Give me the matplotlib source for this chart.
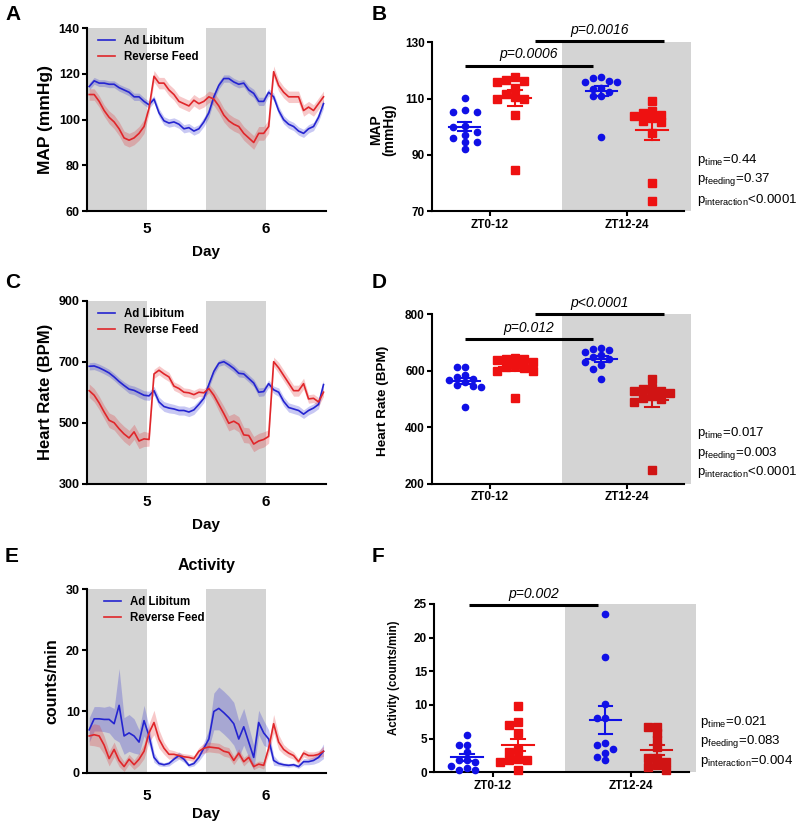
import matplotlib
matplotlib.use("Agg")
import matplotlib.pyplot as plt
import numpy as np

plt.rcParams['font.family'] = ['Liberation Sans', 'DejaVu Sans']
plt.rcParams['mathtext.fontset'] = 'custom'
plt.rcParams['mathtext.rm'] = 'Liberation Sans'
plt.rcParams['mathtext.it'] = 'Liberation Sans:italic'
plt.rcParams['mathtext.bf'] = 'Liberation Sans:bold'

# -------------------------------
# time course data (hourly bins from day 4.5 to 6.5)
# -------------------------------
map_al = [114.5, 117, 116, 116, 115.5, 115.5, 114, 113, 112, 110, 110, 108, 106.5, 109,
          103, 99.5, 98.5, 99, 98, 96, 96.5, 95, 96, 99, 103, 110, 115, 118, 118, 116.5,
          115.5, 116, 113, 111.5, 108, 108, 112, 110, 104, 100, 98, 97, 95, 94, 96, 97,
          101, 107]
map_al_sem = [1.5, 1.5, 1.5, 1.5, 1.5, 1.5, 1.5, 1.5, 1.6, 1.6, 1.6, 1.6, 1.6, 1.5, 1.8, 1.8,
              1.8, 1.8, 1.8, 1.8, 1.8, 1.8, 1.8, 2.0, 2.0, 1.8, 1.6, 1.6, 1.6, 1.6, 1.6, 1.6,
              1.8, 1.8, 1.8, 1.8, 1.6, 1.6, 1.8, 1.8, 1.8, 1.8, 1.8, 1.8, 1.8, 1.8, 1.8, 2.0]
map_rf = [111, 111, 108, 104, 101, 99, 96, 92, 91, 92, 94, 97, 105, 119, 116, 116, 113, 111,
          108, 107, 106, 108.5, 107, 108, 110, 109, 106, 102, 99.5, 98, 97, 94, 92, 90, 94, 94,
          97, 121, 115, 112, 110, 110, 110, 104, 105.5, 104, 107, 110]
map_rf_sem = [2.5, 2.5, 2.5, 2.5, 2.8, 3, 3, 3, 3, 3, 3, 3, 2.5, 2.5, 2.5, 2.5, 2.5, 2.5,
              2.5, 2.5, 2.5, 2.5, 2.5, 2.5, 2.5, 2.8, 3, 3, 3, 3, 3, 3, 3, 3, 3, 3, 3, 2.5,
              2.5, 2.5, 2.5, 2.5, 2.5, 2.5, 2.5, 2.5, 2.5, 2.5]

hr_al = [685, 686, 680, 672, 663, 650, 635, 622, 610, 606, 598, 590, 588, 605, 568, 553,
         548, 545, 540, 540, 535, 542, 560, 580, 625, 668, 695, 700, 690, 678, 662, 660,
         645, 630, 600, 602, 628, 608, 600, 570, 550, 545, 540, 528, 540, 548, 560, 625]
hr_al_sem = [12, 12, 12, 12, 12, 12, 12, 12, 14, 14, 15, 15, 15, 14, 16, 16, 16, 15, 15, 15,
             15, 15, 14, 14, 12, 12, 10, 10, 12, 12, 12, 12, 12, 12, 14, 14, 12, 12, 14, 15,
             15, 15, 15, 14, 14, 14, 14, 14]
hr_rf = [605, 590, 565, 535, 508, 500, 480, 463, 450, 470, 440, 447, 445, 660, 672, 660,
         650, 620, 612, 600, 598, 592, 600, 598, 612, 590, 560, 530, 498, 505, 495, 460,
         458, 430, 440, 445, 455, 700, 680, 655, 630, 605, 605, 628, 578, 580, 568, 600]
hr_rf_sem = [22, 22, 22, 22, 24, 24, 24, 25, 25, 25, 25, 25, 22, 15, 15, 15, 15, 14, 14, 14,
             14, 14, 14, 14, 14, 18, 22, 24, 25, 25, 25, 25, 25, 25, 25, 25, 22, 15, 18, 18,
             18, 18, 18, 18, 14, 14, 14, 14]

act_al = [7, 8.8, 8.8, 8.7, 8.7, 8.0, 11, 6, 6.5, 6, 5, 8.5, 6, 2.5, 1.5, 1.3, 1.5, 2.2, 2.8,
          2.2, 1.2, 1.5, 2.5, 4, 5.5, 10, 10.5, 9.8, 9, 8, 5.5, 7.5, 5, 2.5, 8.2, 6.5, 5.5, 2,
          1.5, 1.3, 1.2, 1.3, 1.0, 1.8, 1.8, 2.0, 2.5, 3.5]
act_al_sem = [2, 2, 2, 2, 2.2, 2.5, 6, 3, 3, 2.8, 2, 2.5, 1.5, 0.8, 0.4, 0.3, 0.4, 0.5, 0.6,
              0.5, 0.3, 0.4, 0.6, 1, 1.5, 3, 3.5, 3.5, 3.5, 3.5, 3, 3, 2.5, 2, 2, 2, 1.5, 0.8,
              0.4, 0.3, 0.3, 0.3, 0.3, 0.5, 0.5, 0.6, 0.8, 1.2]
act_rf = [6, 6.2, 6.0, 4.5, 2.3, 3.8, 2, 1, 2.2, 1.3, 2.2, 3.5, 6.5, 8.2, 5.5, 4, 3, 3, 2.8,
          2.6, 2.5, 2.3, 3.5, 4, 4.2, 4.1, 4, 3.5, 3.3, 2, 3.2, 1.8, 2.5, 1, 1.4, 1.2, 4, 8, 5,
          3.8, 3.2, 2.8, 1.8, 3.2, 2.8, 2.8, 3, 3.5]
act_rf_sem = [1.5, 1.8, 1.8, 1.5, 1.2, 1.2, 1, 0.8, 0.8, 0.8, 1, 1.2, 1.5, 2, 1.5, 1, 0.8, 0.6,
              0.5, 0.5, 0.5, 0.5, 0.6, 0.8, 0.8, 0.8, 0.8, 0.8, 0.8, 0.7, 0.7, 0.7, 0.6, 0.5,
              0.5, 0.6, 1, 1.5, 1.2, 0.8, 0.7, 0.6, 0.5, 0.6, 0.6, 0.6, 0.6, 0.8]

dark_phases = [(4.5, 5.0), (5.5, 6.0)]
day_ticks = [5, 6]

# -------------------------------
# individual animals, ZT0-12 / ZT12-24
# -------------------------------
categories = ['ZT0-12', 'ZT12-24']

map_al_zt0 = [110.3, 105.3, 105.3, 105.9, 100.2, 100, 98.2, 96.1, 97, 94.4, 94.4, 91.9]
map_rf_zt0 = [116, 116.2, 116.6, 117.8, 111.6, 113.9, 110.5, 109.7, 109.7, 104, 84.5]
map_al_zt12 = [117.5, 115.8, 116, 117.2, 116.3, 113.5, 112.5, 111, 110.8, 113.6, 96.4]
map_rf_zt12 = [109.1, 104.7, 104.1, 105.7, 103, 103.8, 102, 101.5, 97.9, 79.8, 73.5]

hr_al_zt0 = [613, 613, 585, 579, 571, 566, 560, 548, 544, 545, 473]
hr_rf_zt0 = [642, 640, 638, 644, 630, 620, 615, 609, 600, 598, 505]
hr_al_zt12 = [677, 672, 682, 668, 655, 648, 640, 632, 620, 605, 570]
hr_rf_zt12 = [571, 540, 535, 530, 528, 520, 510, 505, 500, 490, 249]

act_al_zt0 = [5.5, 4.1, 4.1, 3.0, 1.0, 1.8, 1.8, 1.6, 0.4, 0.3, 0.6]
act_rf_zt0 = [9.9, 7.4, 7.0, 5.9, 3.0, 3.3, 1.9, 1.9, 0.4, 2.0, 1.5]
act_al_zt12 = [23.5, 17.2, 10.2, 8.0, 8.0, 4.0, 4.4, 3.5, 2.8, 1.8, 2.2]
act_rf_zt12 = [6.8, 6.8, 5.8, 4.8, 3.8, 2.1, 2.1, 1.1, 0.8, 0.3, 1.5]

map_p = ['0.44', '0.37', '<0.0001']
hr_p = ['0.017', '0.003', '<0.0001']
act_p = ['0.021', '0.083', '0.004']

BLUE = '#2424d0'
RED = '#e0262a'
DOT_BLUE = '#1010e6'
DOT_RED = '#ee1111'
GRAY = '#d4d4d4'

W, H = 800, 823
fig = plt.figure(figsize=(W / 100, H / 100), dpi=100)


def px_axes(left, top, right, bottom):
    return fig.add_axes([left / W, 1 - bottom / H, (right - left) / W, (bottom - top) / H])


def style_axes(ax, tick_size):
    for s in ['top', 'right']:
        ax.spines[s].set_visible(False)
    for s in ['left', 'bottom']:
        ax.spines[s].set_linewidth(1.5)
    ax.tick_params(axis='y', length=3.5, width=1.5, pad=1.5, labelsize=tick_size)
    for lab in ax.get_yticklabels():
        lab.set_fontweight('bold')


def time_panel(ax, al, al_sem, rf, rf_sem, ylim, yticks, ylabel, ylab_x, ylab_size,
               tick_pad, leg_x):
    al, al_sem, rf, rf_sem = map(np.asarray, (al, al_sem, rf, rf_sem))
    t = 4.5 + (np.arange(len(al)) + 0.5) / 24
    for a, b in dark_phases:
        ax.axvspan(a, b, color=GRAY, lw=0, zorder=0)
    ax.fill_between(t, al - al_sem, al + al_sem, color=BLUE, alpha=0.25, lw=0, zorder=1)
    ax.fill_between(t, rf - rf_sem, rf + rf_sem, color=RED, alpha=0.25, lw=0, zorder=1)
    ax.plot(t, al, color=BLUE, lw=1.2, label='Ad Libitum', zorder=2)
    ax.plot(t, rf, color=RED, lw=1.2, label='Reverse Feed', zorder=2)
    ax.set_xlim(4.5, 6.5)
    ax.set_ylim(*ylim)
    ax.set_yticks(yticks)
    ax.set_xticks(day_ticks)
    style_axes(ax, 9)
    ax.tick_params(axis='x', length=0, pad=tick_pad, labelsize=11)
    for lab in ax.get_xticklabels():
        lab.set_fontweight('bold')
    ax.set_xlabel('Day', fontsize=11, fontweight='bold')
    ax.xaxis.set_label_coords(0.5, -0.185)
    ax.set_ylabel(ylabel, fontsize=ylab_size, fontweight='bold')
    ax.yaxis.set_label_coords(ylab_x, 0.5)
    ax.legend(loc='upper left', bbox_to_anchor=(leg_x, 1.0), frameon=False,
              prop={'weight': 'bold', 'size': 8.3}, handlelength=1.4,
              handletextpad=0.8, labelspacing=0.35, borderaxespad=0.2)


def swarm_x(ax, values, center, step_px, ythr_px):
    pts = ax.transData.transform(np.column_stack([np.full(len(values), center), values]))
    ys = pts[:, 1]
    order = np.argsort(-ys)
    placed = []
    offs = np.zeros(len(values))
    for i in order:
        for k in [0, -1, 1, -2, 2, -3, 3, -4, 4]:
            if all(not (kk == k and abs(ys[i] - py) < ythr_px) for kk, py in placed):
                break
        placed.append((k, ys[i]))
        offs[i] = k * step_px
    return ax.transData.inverted().transform(np.column_stack([pts[:, 0] + offs, ys]))[:, 0]


def scatter_panel(ax, groups, ylim, yticks, ylabel, ylab_xy, ylab_size, bars, pvals,
                  ptext_x, ptext_y):
    ax.set_xlim(0.575, 2.47)
    ax.set_ylim(*ylim)
    ax.axvspan(1.525, 2.47, color=GRAY, lw=0, zorder=0)
    ax.set_xticks([1, 2])
    ax.set_xticklabels(categories)
    ax.set_yticks(yticks)
    style_axes(ax, 8.5)
    ax.spines['bottom'].set_bounds(0.575, 2.42)
    ax.tick_params(axis='x', length=3.5, width=1.5, pad=2, labelsize=8.5)
    for lab in ax.get_xticklabels():
        lab.set_fontweight('bold')
    ax.set_ylabel(ylabel, fontsize=ylab_size, fontweight='bold', linespacing=1.0)
    ax.yaxis.set_label_coords(*ylab_xy)
    for vals, cx, color, marker, ms, step in groups:
        vals = np.asarray(vals, dtype=float)
        xs = swarm_x(ax, vals, cx, step, 6.5)
        ax.plot(xs, vals, linestyle='none', marker=marker, ms=ms, color=color,
                mec=color, zorder=3, clip_on=False)
        m = vals.mean()
        se = vals.std(ddof=1) / np.sqrt(len(vals))
        ax.plot([cx - 0.115, cx + 0.115], [m, m], color=color, lw=1.5, zorder=4)
        ax.plot([cx, cx], [m - se, m + se], color=color, lw=1.5, zorder=4)
        for y in (m - se, m + se):
            ax.plot([cx - 0.05, cx + 0.05], [y, y], color=color, lw=1.5, zorder=4)
    for x0, x1, y, txt in bars:
        ax.plot([x0, x1], [y, y], color='black', lw=2.2, clip_on=False, zorder=5,
                solid_capstyle='butt')
        ax.annotate(txt, ((x0 + x1) / 2, y), xytext=(0, 3), textcoords='offset points',
                    ha='center', va='bottom', fontsize=10, fontstyle='italic',
                    annotation_clip=False)
    names = ['time', 'feeding', 'interaction']
    for name, pv, yy in zip(names, pvals, ptext_y):
        sign = '' if pv.startswith('<') else '='
        fig.text(ptext_x / W, 1 - yy / H, r'p$_{\mathrm{%s}}$%s%s' % (name, sign, pv),
                 fontsize=9.5, va='center', ha='left')


# ---------- A ----------
axA = px_axes(86.7, 28.3, 326, 211)
time_panel(axA, map_al, map_al_sem, map_rf, map_rf_sem, (60, 140), [60, 80, 100, 120, 140],
           'MAP (mmHg)', -0.142, 12.5, 8, 0.02)

# ---------- C ----------
axC = px_axes(86.7, 300.7, 326, 483.7)
time_panel(axC, hr_al, hr_al_sem, hr_rf, hr_rf_sem, (300, 900), [300, 500, 700, 900],
           'Heart Rate (BPM)', -0.142, 12, 8, 0.02)

# ---------- E ----------
axE = px_axes(86.7, 589, 326, 772.7)
time_panel(axE, act_al, act_al_sem, act_rf, act_rf_sem, (0, 30), [0, 10, 20, 30],
           'counts/min', -0.115, 11.5, 12, 0.045)
axE.set_title('Activity', fontsize=11.5, fontweight='bold', pad=14)

# ---------- B ----------
axB = px_axes(431.7, 42.3, 691, 211)
scatter_panel(axB,
              [(map_al_zt0, 0.815, DOT_BLUE, 'o', 4.5, 12),
               (map_rf_zt0, 1.185, DOT_RED, 's', 5.5, 9),
               (map_al_zt12, 1.815, DOT_BLUE, 'o', 4.5, 8),
               (map_rf_zt12, 2.185, DOT_RED, 's', 5.5, 9)],
              (70, 130), [70, 90, 110, 130], 'MAP\n(mmHg)', (-0.135, 0.48), 10,
              [(0.815, 1.755, 121.7, 'p=0.0006'), (1.33, 2.27, 130.4, 'p=0.0016')],
              map_p, 697, [160, 180, 200])

# ---------- D ----------
axD = px_axes(431.7, 314.3, 691, 483.7)
scatter_panel(axD,
              [(hr_al_zt0, 0.815, DOT_BLUE, 'o', 4.5, 8),
               (hr_rf_zt0, 1.185, DOT_RED, 's', 5.5, 9),
               (hr_al_zt12, 1.815, DOT_BLUE, 'o', 4.5, 8),
               (hr_rf_zt12, 2.185, '#d01414', 's', 5.5, 9)],
              (200, 800), [200, 400, 600, 800], 'Heart Rate (BPM)', (-0.165, 0.49), 9.7,
              [(0.815, 1.755, 711.5, 'p=0.012'), (1.33, 2.27, 800, 'p<0.0001')],
              hr_p, 697, [433, 453, 472])

# ---------- F ----------
axF = px_axes(434, 604, 696, 772.3)
scatter_panel(axF,
              [(act_al_zt0, 0.815, DOT_BLUE, 'o', 4.5, 8),
               (act_rf_zt0, 1.185, DOT_RED, 's', 5.5, 9),
               (act_al_zt12, 1.815, DOT_BLUE, 'o', 4.5, 8),
               (act_rf_zt12, 2.185, '#d01414', 's', 5.5, 9)],
              (0, 25), [0, 5, 10, 15, 20, 25], 'Activity (counts/min)', (-0.13, 0.56), 8.3,
              [(0.83, 1.76, 24.8, 'p=0.002')],
              act_p, 700, [722, 741, 761])

# panel letters
for letter, x, y in [('A', 5, 15), ('B', 372, 15), ('C', 5, 283), ('D', 372, 283),
                     ('E', 5, 556), ('F', 372, 556)]:
    fig.text(x / W, 1 - y / H, letter, fontsize=15, fontweight='bold', va='center', ha='left')

fig.savefig('out.png', dpi=100)
